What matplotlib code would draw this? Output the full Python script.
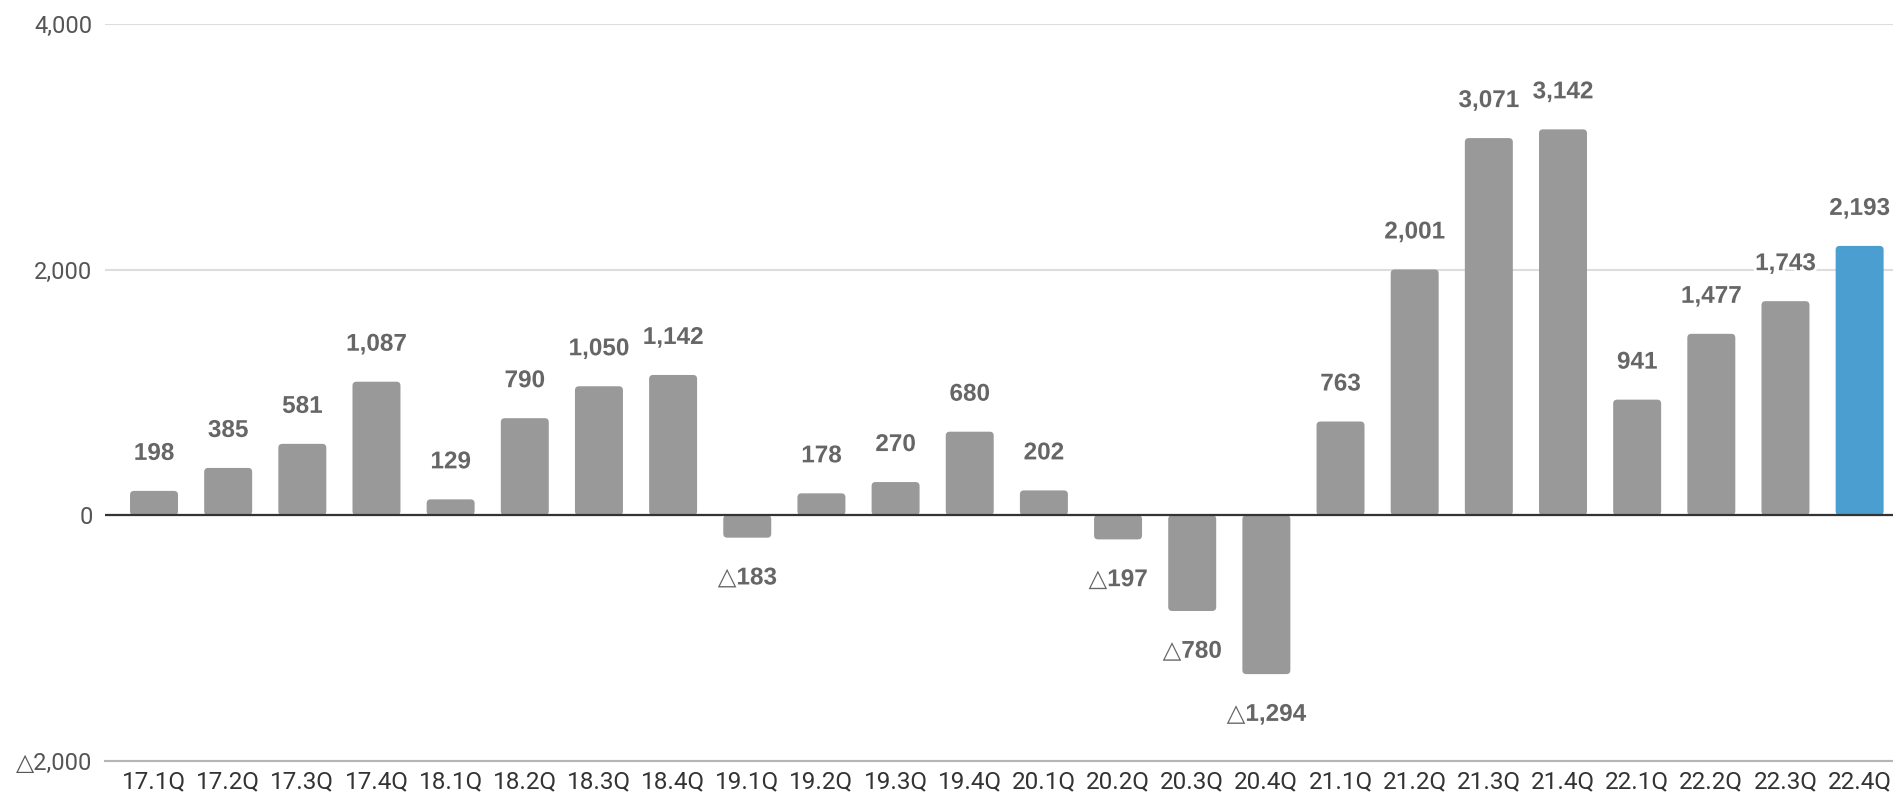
import matplotlib.pyplot as plt
import matplotlib.patheffects as pe
from matplotlib.patches import FancyBboxPatch
from matplotlib.ticker import FuncFormatter

quarters = ["17.1Q", "17.2Q", "17.3Q", "17.4Q", "18.1Q", "18.2Q", "18.3Q", "18.4Q",
            "19.1Q", "19.2Q", "19.3Q", "19.4Q", "20.1Q", "20.2Q", "20.3Q", "20.4Q",
            "21.1Q", "21.2Q", "21.3Q", "21.4Q", "22.1Q", "22.2Q", "22.3Q", "22.4Q"]
values = [198, 385, 581, 1087, 129, 790, 1050, 1142,
          -183, 178, 270, 680, 202, -197, -780, -1294,
          763, 2001, 3071, 3142, 941, 1477, 1743, 2193]
yticks = [-2000, 0, 2000, 4000]

GREY = "#999999"
BLUE = "#4a9fd0"
colors = [GREY] * (len(values) - 1) + [BLUE]


def fmt(v, pos=None):
    v = int(round(v))
    return ("△" if v < 0 else "") + f"{abs(v):,}"


fig = plt.figure(figsize=(18.93, 8), dpi=100)
ax = fig.add_axes([0.0555, 0.049, 0.9445, 0.921])

x = list(range(len(values)))
bars = ax.bar(x, values, width=0.647, color=colors)

ax.set_xlim(-0.66, 23.45)
ax.set_ylim(-2000, 4000)

# swap plain rectangles for ones with slightly rounded corners
x_per_px = (23.45 + 0.66) / (0.9445 * 1893)
y_per_px = 6000 / (0.921 * 800)
for b, c in zip(bars, colors):
    y0 = min(b.get_y(), b.get_y() + b.get_height())
    h = abs(b.get_height())
    rb = FancyBboxPatch((b.get_x(), y0), b.get_width(), h,
                        boxstyle=f"round,pad=0,rounding_size={4 * x_per_px}",
                        mutation_aspect=y_per_px / x_per_px,
                        facecolor=c, edgecolor="none", zorder=2)
    b.remove()
    ax.add_patch(rb)

# value labels
for xi, v in zip(x, values):
    off = 27 if v >= 0 else -29
    ax.annotate(fmt(v), (xi, v), xytext=(0, off), textcoords="offset points",
                ha="center", va="center", fontsize=17.5, fontweight="bold",
                color="#666666", family=["Liberation Sans", "DejaVu Sans"],
                path_effects=[pe.withStroke(linewidth=4, foreground="white")],
                zorder=4)

ax.axhline(0, color="#333333", linewidth=1.6, zorder=3)
ax.set_yticks(yticks)
ax.yaxis.set_major_formatter(FuncFormatter(fmt))
ax.set_xticks(x)
ax.set_xticklabels(quarters)
ax.grid(axis="y", color="#dddddd", linewidth=1.5, zorder=0)
ax.set_axisbelow(True)

for s in ["top", "left", "right"]:
    ax.spines[s].set_visible(False)
ax.spines["bottom"].set_color("#b5b5b5")
ax.spines["bottom"].set_linewidth(1.5)
ax.tick_params(length=0)
ax.tick_params(axis="y", pad=9, labelsize=17, labelcolor="#555555")
ax.tick_params(axis="x", pad=7, labelsize=17.5, labelcolor="#333333")
for lab in ax.get_xticklabels() + ax.get_yticklabels():
    lab.set_family(["Roboto", "DejaVu Sans"])

fig.savefig("out.png", dpi=100)
